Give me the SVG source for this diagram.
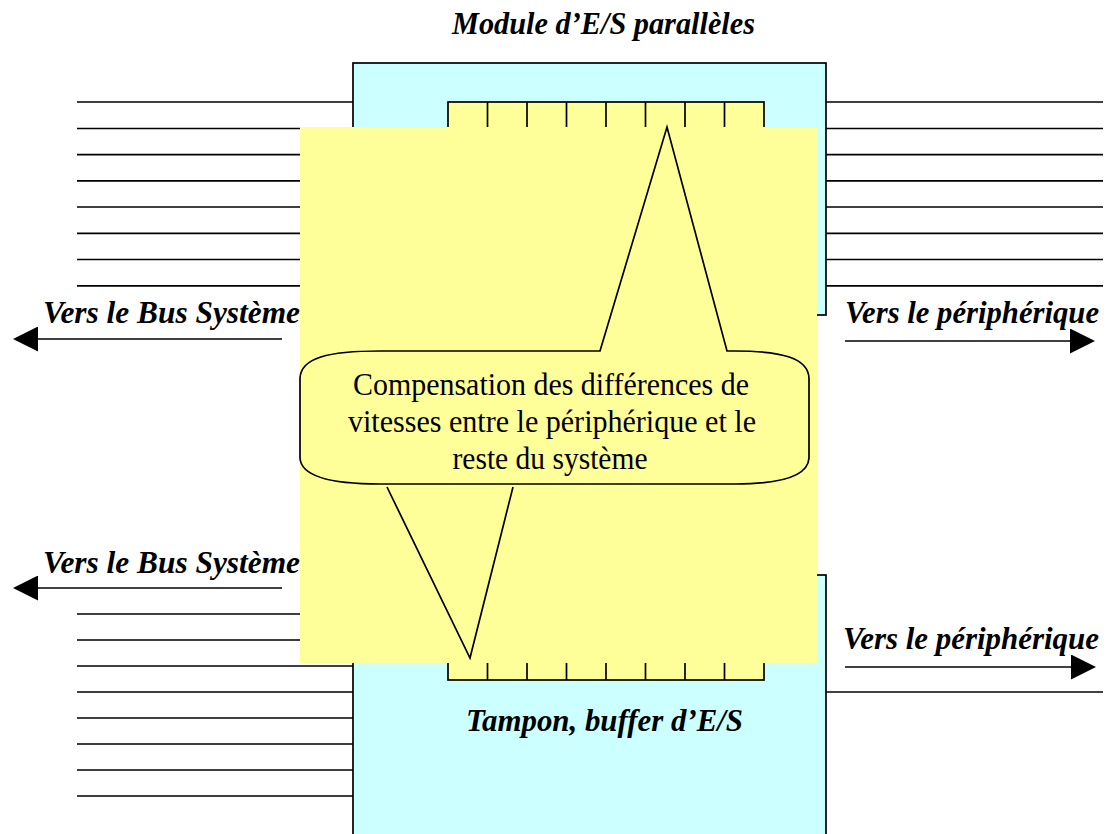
<svg xmlns="http://www.w3.org/2000/svg" width="1109" height="834" viewBox="0 0 1109 834">
<style>
.ln{stroke:#000;stroke-width:1.7;fill:none}
.mod{fill:#CCFFFF;stroke:#000;stroke-width:1.7}
.buf{fill:#FFFF99;stroke:#000;stroke-width:1.7}
.lbl{font-family:"Liberation Serif","Times New Roman",serif;font-weight:bold;font-style:italic;font-size:32px;fill:#000}
.call{font-family:"Liberation Serif","Times New Roman",serif;font-size:32px;fill:#000}
</style>
<defs>
<marker id="ah" viewBox="0 0 25 25" refX="0" refY="12.5" markerWidth="25" markerHeight="25" markerUnits="userSpaceOnUse" orient="auto">
<path d="M0,0 L25,12.5 L0,25 Z" fill="#000"/>
</marker>
</defs>
<rect width="1109" height="834" fill="#fff"/>

<g id="title">
<text class="lbl" x="452" y="34" textLength="303" lengthAdjust="spacingAndGlyphs">Module d’E/S parallèles</text>
</g>

<g id="module-top">
<rect class="mod" x="353" y="63" width="473" height="252"/>
<rect class="buf" x="448" y="102" width="316" height="80"/>
<path class="ln" d="M487.5,102V182M527,102V182M566.5,102V182M606,102V182M645.5,102V182M685,102V182M724.5,102V182"/>
</g>

<g id="module-bottom">
<rect class="mod" x="353" y="575" width="473" height="270"/>
<rect class="buf" x="448" y="630" width="316" height="50"/>
<path class="ln" d="M487.5,630V680M527,630V680M566.5,630V680M606,630V680M645.5,630V680M685,630V680M724.5,630V680"/>
</g>

<g id="connectors">
<path class="ln" d="M77,102H353M77,128.5H353M77,154.7H353M77,180.8H353M77,207H353M77,233.3H353M77,259.5H353M77,285.8H353"/>
<path class="ln" d="M826,102H1103M826,128.5H1103M826,154.7H1103M826,180.8H1103M826,207H1103M826,233.3H1103M826,259.5H1103M826,285.8H1103"/>
<path class="ln" d="M77,614H353M77,640H353M77,666H353M77,692H353M77,718H353M77,744H353M77,770H353M77,796H353"/>
<path class="ln" d="M826,692H1103"/>
<line class="ln" x1="282" y1="339" x2="38" y2="339" marker-end="url(#ah)"/>
<line class="ln" x1="282" y1="588" x2="38" y2="588" marker-end="url(#ah)"/>
<line class="ln" x1="845" y1="341" x2="1070" y2="341" marker-end="url(#ah)"/>
<line class="ln" x1="845" y1="667" x2="1071" y2="667" marker-end="url(#ah)"/>
</g>

<g id="labels">
<text class="lbl" x="43" y="323" textLength="257" lengthAdjust="spacingAndGlyphs">Vers le Bus Système</text>
<text class="lbl" x="43" y="573" textLength="257" lengthAdjust="spacingAndGlyphs">Vers le Bus Système</text>
<text class="lbl" x="845" y="323" textLength="254" lengthAdjust="spacingAndGlyphs">Vers le périphérique</text>
<text class="lbl" x="843" y="649" textLength="256" lengthAdjust="spacingAndGlyphs">Vers le périphérique</text>
</g>

<g id="overlay">
<rect x="300" y="127" width="517" height="536" fill="#FFFF99"/>
</g>

<g id="module-bottom-label">
<text class="lbl" x="466" y="731" textLength="277" lengthAdjust="spacingAndGlyphs">Tampon, buffer d’E/S</text>
</g>

<g id="callout">
<path class="ln" d="M600,351 L667,127 L727,351 L735,351 C782,351 808,358 809,378 L809,458 C808,476 782,484 735,484 L380,484 C328,484 301,476 300,458 L300,378 C301,358 328,351 380,351 Z" style="fill:#FFFF99"/>
<path class="ln" d="M387,487 L470,658 L513,487"/>
<text class="call" text-anchor="middle">
<tspan x="555" y="395" textLength="396" lengthAdjust="spacingAndGlyphs">Compensation des différences de</tspan>
<tspan x="556" y="432" textLength="408" lengthAdjust="spacingAndGlyphs">vitesses entre le périphérique et le</tspan>
<tspan x="550" y="469" textLength="195" lengthAdjust="spacingAndGlyphs">reste du système</tspan>
</text>
</g>
</svg>
